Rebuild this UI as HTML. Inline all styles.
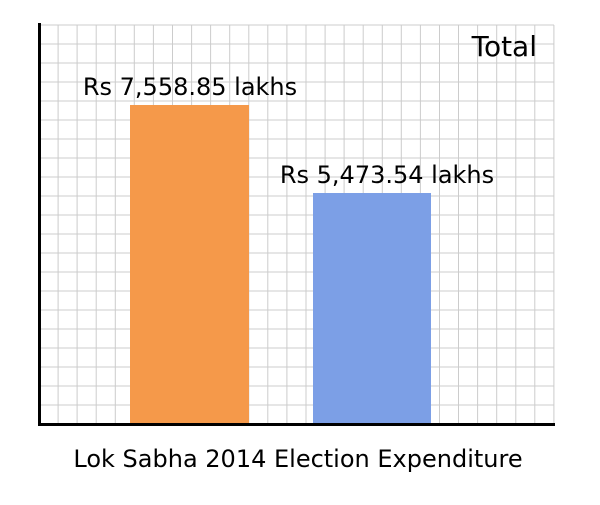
<!DOCTYPE html>
<html><head><style>
body{margin:0;background:#fff;width:600px;height:500px;overflow:hidden}
svg text{font-family:"DejaVu Sans","Liberation Sans",sans-serif}
</style></head><body>
<svg width="600" height="500" xmlns="http://www.w3.org/2000/svg">
<g id="grid" stroke="#cccccc" stroke-width="1"></g>
<rect x="130" y="105" width="119" height="319" fill="#f5994a"/>
<rect x="313" y="193" width="118" height="231" fill="#7c9fe6"/>
<line x1="39.5" y1="23" x2="39.5" y2="426" stroke="#000" stroke-width="3"/>
<line x1="38" y1="424.5" x2="555" y2="424.5" stroke="#000" stroke-width="3"/>
<text x="537" y="56" font-size="28" text-anchor="end">Total</text>
<text x="190" y="95" font-size="24" text-anchor="middle">Rs 7,558.85 lakhs</text>
<text x="387" y="183" font-size="24" text-anchor="middle">Rs 5,473.54 lakhs</text>
<text x="298" y="467" font-size="24" text-anchor="middle">Lok Sabha 2014 Election Expenditure</text>
</svg>
<script>
var g=document.getElementById('grid'),s='';
for(var i=1;i<=27;i++){var x=(39+i*19.07).toFixed(1);s+='<line x1="'+x+'" y1="25" x2="'+x+'" y2="424"/>';}
for(var j=0;j<21;j++){var y=(25+j*19).toFixed(1);s+='<line x1="39" y1="'+y+'" x2="554" y2="'+y+'"/>';}
g.innerHTML=s;
</script>
</body></html>
